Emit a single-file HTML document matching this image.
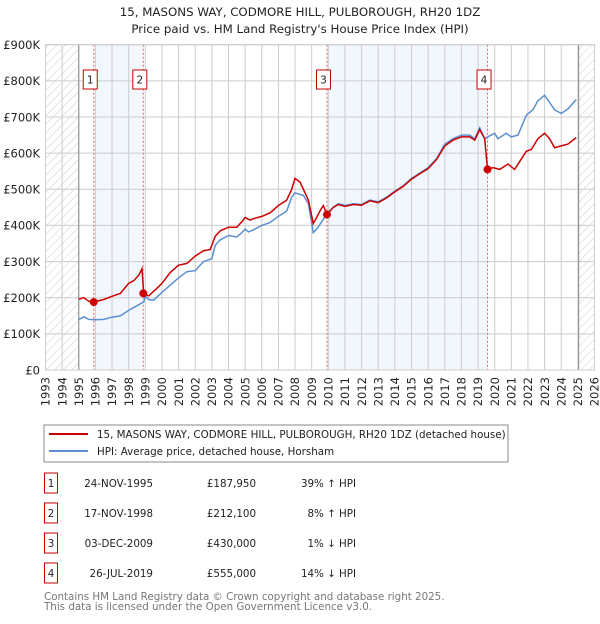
<!DOCTYPE html>
<html><head><meta charset="utf-8"><style>
body{margin:0;background:#fff;width:600px;height:620px;overflow:hidden;font-family:"DejaVu Sans","Liberation Sans",sans-serif;}
svg text{font-family:"DejaVu Sans","Liberation Sans",sans-serif;}
</style></head><body>
<svg id="c" width="600" height="620" viewBox="0 0 600 620">
<defs><pattern id="hatch" width="6" height="6" patternUnits="userSpaceOnUse" patternTransform="rotate(45)"><line x1="0" y1="0" x2="0" y2="6" stroke="#ccc" stroke-width="1"/></pattern></defs>
<text x="300" y="16" text-anchor="middle" font-size="11.8" fill="#222">15, MASONS WAY, CODMORE HILL, PULBOROUGH, RH20 1DZ</text>
<text x="300" y="33" text-anchor="middle" font-size="11.8" fill="#222">Price paid vs. HM Land Registry's House Price Index (HPI)</text>
<g id="plot"></g>
<rect x="44" y="425" width="464" height="37" fill="#fff" stroke="#888"/>
<line x1="49" y1="434" x2="88" y2="434" stroke="#cc0000" stroke-width="2"/>
<text x="97" y="438" font-size="10.3" fill="#222">15, MASONS WAY, CODMORE HILL, PULBOROUGH, RH20 1DZ (detached house)</text>
<line x1="49" y1="451" x2="88" y2="451" stroke="#5b8fd0" stroke-width="2"/>
<text x="97" y="455" font-size="10.3" fill="#222">HPI: Average price, detached house, Horsham</text>
<g id="table" font-size="10.3" fill="#222"></g>
<text x="44" y="600" font-size="10.3" fill="#777">Contains HM Land Registry data © Crown copyright and database right 2025.</text>
<text x="44" y="610" font-size="10.3" fill="#777">This data is licensed under the Open Government Licence v3.0.</text>
</svg>
<script>
const yearTicks=[1993,1994,1995,1996,1997,1998,1999,2000,2001,2002,2003,2004,2005,2006,2007,2008,2009,2010,2011,2012,2013,2014,2015,2016,2017,2018,2019,2020,2021,2022,2023,2024,2025,2026];
const valueTicks=[0,100,200,300,400,500,600,700,800,900];
const valueLabels=["£0","£100K","£200K","£300K","£400K","£500K","£600K","£700K","£800K","£900K"];
const hpiT=[1995.0,1995.3,1995.6,1996,1996.5,1997,1997.5,1998,1998.5,1998.9,1999,1999.2,1999.5,2000,2000.5,2001,2001.5,2002,2002.5,2003,2003.2,2003.5,2004,2004.5,2004.8,2005,2005.2,2005.5,2006,2006.5,2007,2007.5,2007.8,2008,2008.5,2008.8,2009.1,2009.3,2009.6,2009.9,2010.3,2010.6,2011,2011.5,2012,2012.5,2013,2013.5,2014,2014.5,2015,2015.5,2016,2016.5,2017,2017.5,2018,2018.5,2018.8,2019.1,2019.4,2019.7,2020,2020.2,2020.7,2021,2021.4,2021.9,2022.3,2022.6,2023,2023.3,2023.6,2024,2024.4,2024.9];
const hpiV=[140,147,140,139,140,146,150,165,178,188,205,195,193,215,235,255,272,275,300,308,345,360,372,368,380,390,382,388,400,408,425,440,478,490,483,460,380,390,410,432,450,460,455,460,458,470,465,478,495,510,530,545,560,585,625,640,650,650,640,670,640,648,655,640,655,645,650,705,720,745,760,740,720,710,722,748];
const redT=[1995.0,1995.3,1995.6,1995.9,1996.5,1997,1997.5,1998,1998.3,1998.6,1998.8,1998.9,1999.2,1999.6,2000,2000.5,2001,2001.5,2002,2002.5,2002.9,2003.2,2003.5,2004,2004.5,2004.8,2005,2005.3,2005.6,2006,2006.5,2007,2007.5,2007.8,2008,2008.3,2008.8,2009.1,2009.5,2009.7,2009.92,2010.3,2010.6,2011,2011.5,2012,2012.5,2013,2013.5,2014,2014.5,2015,2015.5,2016,2016.5,2017,2017.5,2018,2018.5,2018.8,2019.1,2019.4,2019.57,2019.9,2020.3,2020.8,2021.2,2021.9,2022.2,2022.6,2023,2023.3,2023.6,2024,2024.4,2024.9];
const redV=[196,200,190,188,195,204,212,240,247,262,280,212,205,222,240,270,290,295,315,330,333,370,385,395,395,410,422,415,420,425,435,455,470,500,530,520,470,405,440,455,430,450,458,453,458,456,468,463,476,493,508,528,543,557,582,620,636,645,645,636,665,640,555,560,555,570,555,605,610,640,655,640,615,620,625,643];
const saleT=[1995.9,1998.88,2009.92,2019.57];
const saleV=[187.95,212.1,430,555];
const saleLabels=["1","2","3","4"];
const saleDates=["24-NOV-1995","17-NOV-1998","03-DEC-2009","26-JUL-2019"];
const salePrices=["£187,950","£212,100","£430,000","£555,000"];
const salePct=["39% ↑ HPI","8% ↑ HPI","1% ↓ HPI","14% ↓ HPI"];

const X0=45.5,X1=594.5,Y0=370,Y1=44.7;
const xs=t=>X0+(t-1993)/(2026-1993)*(X1-X0);
const ys=v=>Y0-v/900*(Y0-Y1);
const NS="http://www.w3.org/2000/svg";
const plot=document.getElementById('plot');
function mk(tag,at,parent){const e=document.createElementNS(NS,tag);for(const k in at)e.setAttribute(k,at[k]);(parent||plot).appendChild(e);return e;}
let e;
e=mk('rect',{x:X0,y:Y1,width:X1-X0,height:Y0-Y1,fill:'#fff'});


e=mk('rect',{x:xs(1995.95),y:Y1,width:xs(1998.88)-xs(1995.95),height:Y0-Y1,fill:'#f2f6fd'});


e=mk('rect',{x:xs(2009.92),y:Y1,width:xs(2019.57)-xs(2009.92),height:Y0-Y1,fill:'#f2f6fd'});


e=mk('rect',{x:X0,y:Y1,width:xs(1995)-X0,height:Y0-Y1,fill:'url(#hatch)'});


e=mk('rect',{x:xs(2025.05),y:Y1,width:X1-xs(2025.05),height:Y0-Y1,fill:'url(#hatch)'});


yearTicks.forEach(t=>{const l=mk('line',{x1:xs(t),x2:xs(t),y1:Y1,y2:Y0,stroke:'#ccc','stroke-width':1});


const tx=mk('text',{x:0,y:0,'font-size':11.5,fill:'#222','text-anchor':'end',transform:`translate(${xs(t)+4.2},377) rotate(-90)`});tx.textContent=t;

});
valueTicks.forEach((v,i)=>{const l=mk('line',{x1:X0,x2:X1,y1:ys(v),y2:ys(v),stroke:'#ccc','stroke-width':1});


const tx=mk('text',{x:40,y:ys(v)+4.3,'font-size':11.5,fill:'#222','text-anchor':'end'});tx.textContent=valueLabels[i];

});
e=mk('line',{x1:xs(1995),x2:xs(1995),y1:Y1,y2:Y0,stroke:'#888'});


e=mk('line',{x1:xs(2025.05),x2:xs(2025.05),y1:Y1,y2:Y0,stroke:'#888'});


saleT.forEach((t,i)=>{const l=mk('line',{x1:xs(t),x2:xs(t),y1:Y1,y2:Y0,stroke:'#f06060','stroke-dasharray':'2,2'});

});
const pts=(T,V)=>T.map((t,i)=>xs(t).toFixed(1)+','+ys(V[i]).toFixed(1)).join(' ');
e=mk('polyline',{points:pts(hpiT,hpiV),fill:'none',stroke:'#5b8fd0','stroke-width':1.5});


e=mk('polyline',{points:pts(redT,redV),fill:'none',stroke:'#cc0000','stroke-width':1.5});


saleT.forEach((t,i)=>{const c=mk('circle',{cx:xs(t),cy:ys(saleV[i]),r:4,fill:'#cc0000'});


const b=mk('rect',{x:xs(t)-10.5,y:70,width:14,height:19,fill:'#fff',stroke:'#cc0000'});


const tx=mk('text',{x:xs(t)-3.5,y:83.5,'font-size':10.5,fill:'#222','text-anchor':'middle'});tx.textContent=saleLabels[i];

});
mk('rect',{x:X0,y:Y1,width:X1-X0,height:Y0-Y1,fill:'none',stroke:'#ccc'});
const tb=document.getElementById('table');
saleLabels.forEach((s,i)=>{const cy=483+i*30;
const b=mk('rect',{x:44.5,y:cy-10,width:13,height:20,fill:'#fff',stroke:'#cc0000'},tb);


const cells=[[51,'middle',s,'row-number'],[153,'end',saleDates[i],'row-date'],[256,'end',salePrices[i],'row-price'],[356,'end',salePct[i],'row-hpi-diff']];
cells.forEach(c=>{const tx=mk('text',{x:c[0],y:cy+4,'text-anchor':c[1]},tb);tx.textContent=c[2];

});});
</script>
</body></html>
